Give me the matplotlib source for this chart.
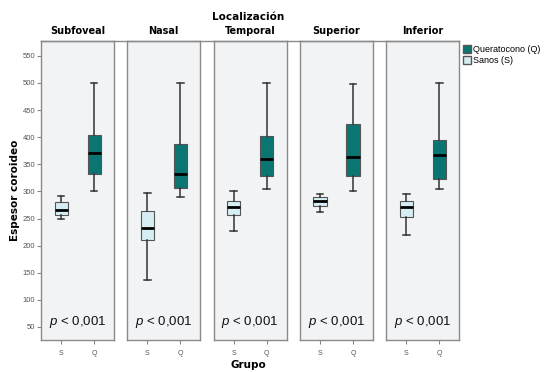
import matplotlib
matplotlib.use("Agg")
import matplotlib.pyplot as plt
from matplotlib.patches import Patch
from matplotlib.lines import Line2D

locations = ["Subfoveal", "Nasal", "Temporal", "Superior", "Inferior"]
groups = ["S", "Q"]
# five-number summaries per location: [whislo, q1, med, q3, whishi]
sanos = {
    "Subfoveal": [250, 257, 265, 280, 291],
    "Nasal":     [137, 211, 233, 263, 298],
    "Temporal":  [227, 257, 271, 282, 300],
    "Superior":  [262, 273, 282, 290, 295],
    "Inferior":  [219, 252, 271, 282, 295],
}
querato = {
    "Subfoveal": [301, 333, 371, 405, 500],
    "Nasal":     [290, 307, 333, 388, 500],
    "Temporal":  [304, 329, 360, 402, 500],
    "Superior":  [301, 329, 363, 424, 498],
    "Inferior":  [304, 323, 368, 395, 500],
}
yticks = [50, 100, 150, 200, 250, 300, 350, 400, 450, 500, 550]
p_text = "< 0,001"

plt.rcParams['font.family'] = ['Liberation Sans', 'DejaVu Sans']
plt.rcParams['mathtext.fontset'] = 'custom'
plt.rcParams['mathtext.it'] = 'Liberation Sans:italic'
plt.rcParams['mathtext.rm'] = 'Liberation Sans'

c_q = "#0b7671"
c_s = "#d6eef3"
bg = "#f2f3f5"
edge = "#8a8a8a"

fig = plt.figure(figsize=(5.45, 3.72), dpi=100)
W, H = 545, 372
left0, pw, step = 41, 73, 86.3
top_px, bot_px = 40.7, 340

def stats(v, label):
    return dict(whislo=v[0], q1=v[1], med=v[2], q3=v[3], whishi=v[4], fliers=[], label=label)

for i, loc in enumerate(locations):
    l = left0 + i * step
    ax = fig.add_axes([l / W, 1 - bot_px / H, pw / W, (bot_px - top_px) / H])
    ax.set_facecolor(bg)
    st = [stats(sanos[loc], "S"), stats(querato[loc], "Q")]
    bp = ax.bxp(st, positions=[1, 2], widths=0.4, patch_artist=True, showfliers=False,
                medianprops=dict(color="black", linewidth=2),
                whiskerprops=dict(color="#333333", linewidth=1.1),
                capprops=dict(color="#333333", linewidth=1.1),
                boxprops=dict(edgecolor="#555555", linewidth=0.8))
    for patch, col in zip(bp["boxes"], [c_s, c_q]):
        patch.set_facecolor(col)
    for cap in bp["caps"]:
        x = cap.get_xdata()
        m = (x[0] + x[1]) / 2
        cap.set_xdata([m - 0.1, m + 0.1])
    ax.set_xlim(0.39, 2.6)
    ax.set_ylim(26, 578)
    for s in ax.spines.values():
        s.set_color(edge)
        s.set_linewidth(1.0)
    ax.set_xticks([1, 2])
    ax.set_xticklabels(groups, fontsize=5, color="#555555")
    ax.tick_params(axis="x", length=3, color="#888888", pad=4)
    if i == 0:
        ax.set_yticks(yticks)
        ax.set_yticklabels([str(t) for t in yticks], fontsize=5.5, color="#555555")
        ax.tick_params(axis="y", length=3, color="#888888", pad=1)
    else:
        ax.set_yticks([])
    ax.text(0.5, 1.015, loc, transform=ax.transAxes, ha="center", va="bottom",
            fontsize=7, fontweight="bold", family=['DejaVu Sans'])
    ax.text(0.5, 0.035, r"$\it{p}$ " + p_text, transform=ax.transAxes, ha="center",
            va="bottom", fontsize=9.5, color="#111111")

# top connecting line
fig.add_artist(Line2D([left0 / W, (left0 + 4 * step + pw) / W], [1 - top_px / H] * 2,
                      color=edge, linewidth=1.0))

fig.text(248 / W, 1 - 17 / H, "Localización", ha="center", va="center",
         fontsize=7.5, fontweight="bold", family=['DejaVu Sans'])
fig.text(248 / W, 1 - 365 / H, "Grupo", ha="center", va="center",
         fontsize=7.5, fontweight="bold", family=['DejaVu Sans'])
fig.text(15 / W, 1 - 190 / H, "Espesor coroideo", ha="center", va="center",
         rotation=90, fontsize=7.5, fontweight="bold", family=['DejaVu Sans'])

handles = [Patch(facecolor=c_q, edgecolor="#555555", label="Queratocono (Q)"),
           Patch(facecolor=c_s, edgecolor="#555555", label="Sanos (S)")]
fig.legend(handles=handles, loc="upper left", bbox_to_anchor=(463 / W, 1 - 45 / H),
           frameon=False, fontsize=6.5, handlelength=0.9, handleheight=0.9,
           handletextpad=0.2, labelspacing=0.25, borderaxespad=0, borderpad=0)

fig.savefig("out.png", dpi=100)
